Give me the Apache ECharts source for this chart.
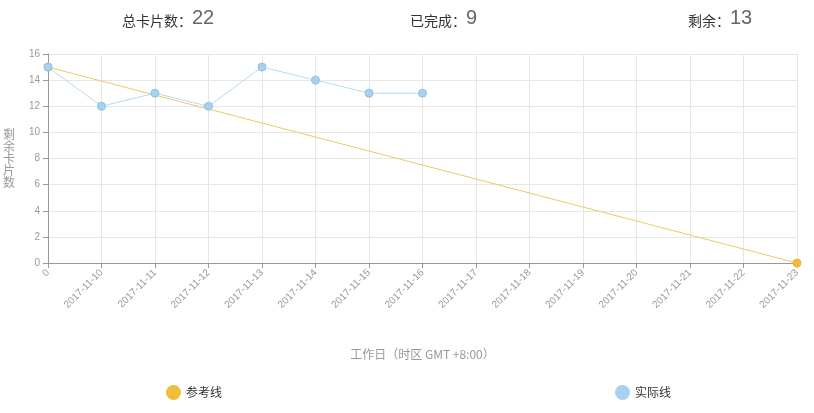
<!DOCTYPE html>
<html><head><meta charset="utf-8">
<script src="https://cdn.jsdelivr.net/npm/echarts@6/dist/echarts.min.js"></script>
<style>html,body{margin:0;padding:0;background:#fff}#c{width:814px;height:413px}</style>
</head><body><div id="c"></div>
<script>
var categories = ['0','2017-11-10','2017-11-11','2017-11-12','2017-11-13','2017-11-14','2017-11-15','2017-11-16','2017-11-17','2017-11-18','2017-11-19','2017-11-20','2017-11-21','2017-11-22','2017-11-23'];
var referenceValues = [15,null,null,null,null,null,null,null,null,null,null,null,null,null,0];
var actualValues = [15,12,13,12,15,14,13,13];
var totalCards = 22, doneCards = 9, remainCards = 13;
var font = '"Microsoft YaHei","Noto Sans CJK SC",sans-serif';
var numFont = '"Liberation Sans",Arial,sans-serif';

var chart = echarts.init(document.getElementById('c'));
function stat(x, label, val){
  return {type:'text', left:x, top:8, style:{
    text:'{a|'+label+'}{b|'+val+'}',
    rich:{a:{fontSize:14,fill:'#333',fontFamily:font,verticalAlign:'bottom'},b:{fontSize:20,fill:'#666',fontFamily:numFont,verticalAlign:'bottom'}}
  }};
}
chart.setOption({
  animation:false,
  textStyle:{fontFamily:font},
  graphic:[stat(122,'总卡片数：',totalCards), stat(410,'已完成：',doneCards), stat(688,'剩余：',remainCards)],
  grid:{left:48, right:17, top:54, bottom:150, containLabel:false, outerBoundsMode:'none'},
  legend:[
    {data:['参考线'], left:161, top:380, icon:'circle', itemWidth:15, itemHeight:15, textStyle:{color:'#333',fontSize:12,fontFamily:font}},
    {data:['实际线'], left:610, top:380, icon:'circle', itemWidth:15, itemHeight:15, textStyle:{color:'#333',fontSize:12,fontFamily:font}}
  ],
  xAxis:{type:'category', data:categories, boundaryGap:false,
    name:'工作日（时区 GMT +8:00）', nameLocation:'middle', nameGap:85,
    nameTextStyle:{color:'#999',fontSize:12},
    axisLine:{lineStyle:{color:'#999'}}, axisTick:{show:true, alignWithLabel:true, lineStyle:{color:'#999'}},
    axisLabel:{rotate:45, color:'#999', fontSize:10, interval:0, fontFamily:numFont},
    splitLine:{show:true, lineStyle:{color:'#e6e6e6'}}},
  yAxis:{type:'value', min:0, max:16, interval:2,
    name:'剩\n余\n卡\n片\n数', nameLocation:'middle', nameRotate:0, nameGap:33,
    nameTextStyle:{color:'#999',fontSize:12, lineHeight:12},
    axisLine:{show:true, lineStyle:{color:'#999'}}, axisTick:{show:true, lineStyle:{color:'#999'}},
    axisLabel:{color:'#999', fontSize:10, fontFamily:numFont},
    splitLine:{lineStyle:{color:'#e6e6e6'}}},
  series:[
    {name:'参考线', type:'line', data:referenceValues, connectNulls:true, symbol:'circle', symbolSize:8,
      itemStyle:{color:'#f0be3c', borderColor:'#e8b830'}, lineStyle:{color:'#ecc869', width:1}},
    {name:'实际线', type:'line', data:actualValues, symbol:'circle', symbolSize:8,
      itemStyle:{color:'#a8d0f0', borderColor:'#8ec0e6'}, lineStyle:{color:'#b3dcf2', width:1}}
  ]
});
</script></body></html>
